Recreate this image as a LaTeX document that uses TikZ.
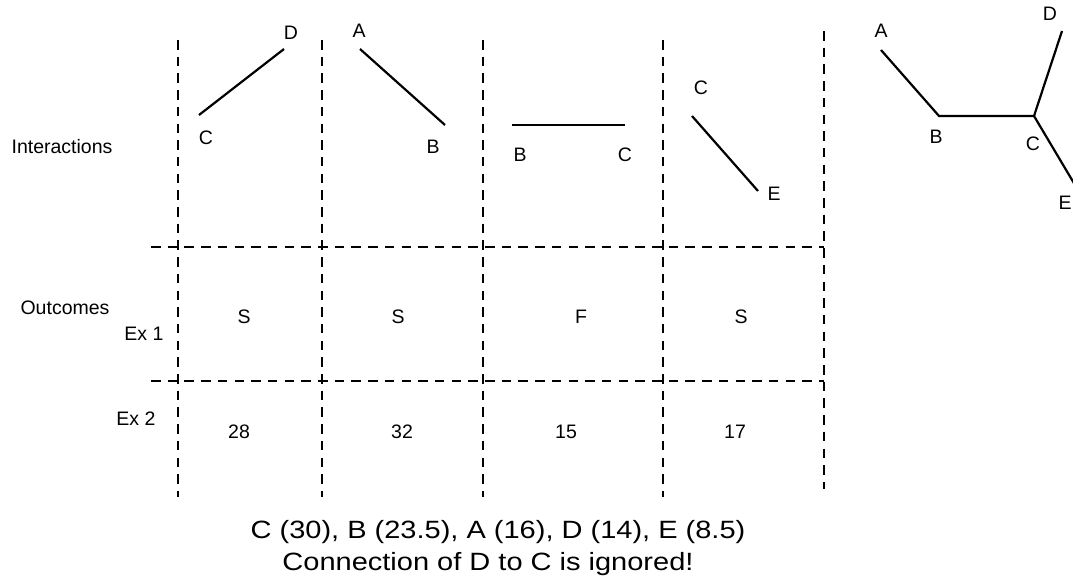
\documentclass[tikz,border=0pt]{standalone}
\usepackage{fontspec}
\setmainfont{Liberation Sans}
\newfontfamily\widesans[FakeStretch=1.16]{Liberation Sans}

\tikzset{
	grid/.style={black, line width=2.2pt, dash pattern=on 9.5pt off 7.2pt},
	bond/.style={black, line width=2.2pt},
	lbl/.style={inner sep=0pt, font=\fontsize{19.5}{23}\selectfont},
	note/.style={inner sep=0pt, anchor=base, font={\fontsize{25}{30}\widesans}}
}

\begin{document}
\begin{tikzpicture}[x=1pt, y=-1pt]
	\useasboundingbox (0,0) rectangle (1073,582);
	\clip (0,0) rectangle (1073,582);
	% dashed table
	\foreach \x in {178,322,483,663} \draw[grid] (\x,40) -- (\x,497);
	\draw[grid] (824,31) -- (824,489);
	\draw[grid] (151,247) -- (824,247);
	\draw[grid] (151,381) -- (824,381);
	% row labels
	\node[lbl] (inter) at (62,147) {Interactions};
	\node[lbl] (outc) at (65,308) {Outcomes};
	\node[lbl] (ex1) at (144,334) {Ex 1};
	\node[lbl] (ex2) at (136,419) {Ex 2};
	% interactions
	\coordinate (c1) at (199,115); \coordinate (d1) at (284,49);
	\draw[bond] (c1) -- (d1);
	\node[lbl] (lc1) at (206,138) {C};
	\node[lbl] (ld1) at (291,33) {D};
	\coordinate (a2) at (360,49); \coordinate (b2) at (445,125);
	\draw[bond] (a2) -- (b2);
	\node[lbl] (la2) at (359,31) {A};
	\node[lbl] (lb2) at (433,147) {B};
	\coordinate (b3) at (512,125); \coordinate (c3) at (625,125);
	\draw[bond] (b3) -- (c3);
	\node[lbl] (lb3) at (520,155) {B};
	\node[lbl] (lc3) at (625,155) {C};
	\coordinate (c4) at (692,116); \coordinate (e4) at (758,191);
	\draw[bond] (c4) -- (e4);
	\node[lbl] (lc4) at (701,88) {C};
	\node[lbl] (le4) at (774,194) {E};
	% outcomes
	\node[lbl] (s1) at (244,317) {S};
	\node[lbl] (s2) at (398,317) {S};
	\node[lbl] (f3) at (581,317) {F};
	\node[lbl] (s4) at (741,317) {S};
	\node[lbl] (n1) at (239,432) {28};
	\node[lbl] (n2) at (402,432) {32};
	\node[lbl] (n3) at (566,432) {15};
	\node[lbl] (n4) at (735,432) {17};
	% whole tree
	\coordinate (ta) at (881,50); \coordinate (tb) at (939,116);
	\coordinate (tc) at (1034,116); \coordinate (td) at (1062,31);
	\coordinate (te) at (1078,190);
	\draw[bond] (ta) -- (tb) -- (tc) -- (td);
	\draw[bond] (tc) -- (te);
	\node[lbl] (lta) at (881,31) {A};
	\node[lbl] (ltb) at (936,137) {B};
	\node[lbl] (ltc) at (1033,144) {C};
	\node[lbl] (ltd) at (1050,14) {D};
	\node[lbl] (lte) at (1065,203) {E};
	% result
	\node[note] (order) at (498,538) {C (30), B (23.5), A (16), D (14), E (8.5)};
	\node[note] (ignored) at (488,570) {Connection of D to C is ignored!};
\end{tikzpicture}
\end{document}
